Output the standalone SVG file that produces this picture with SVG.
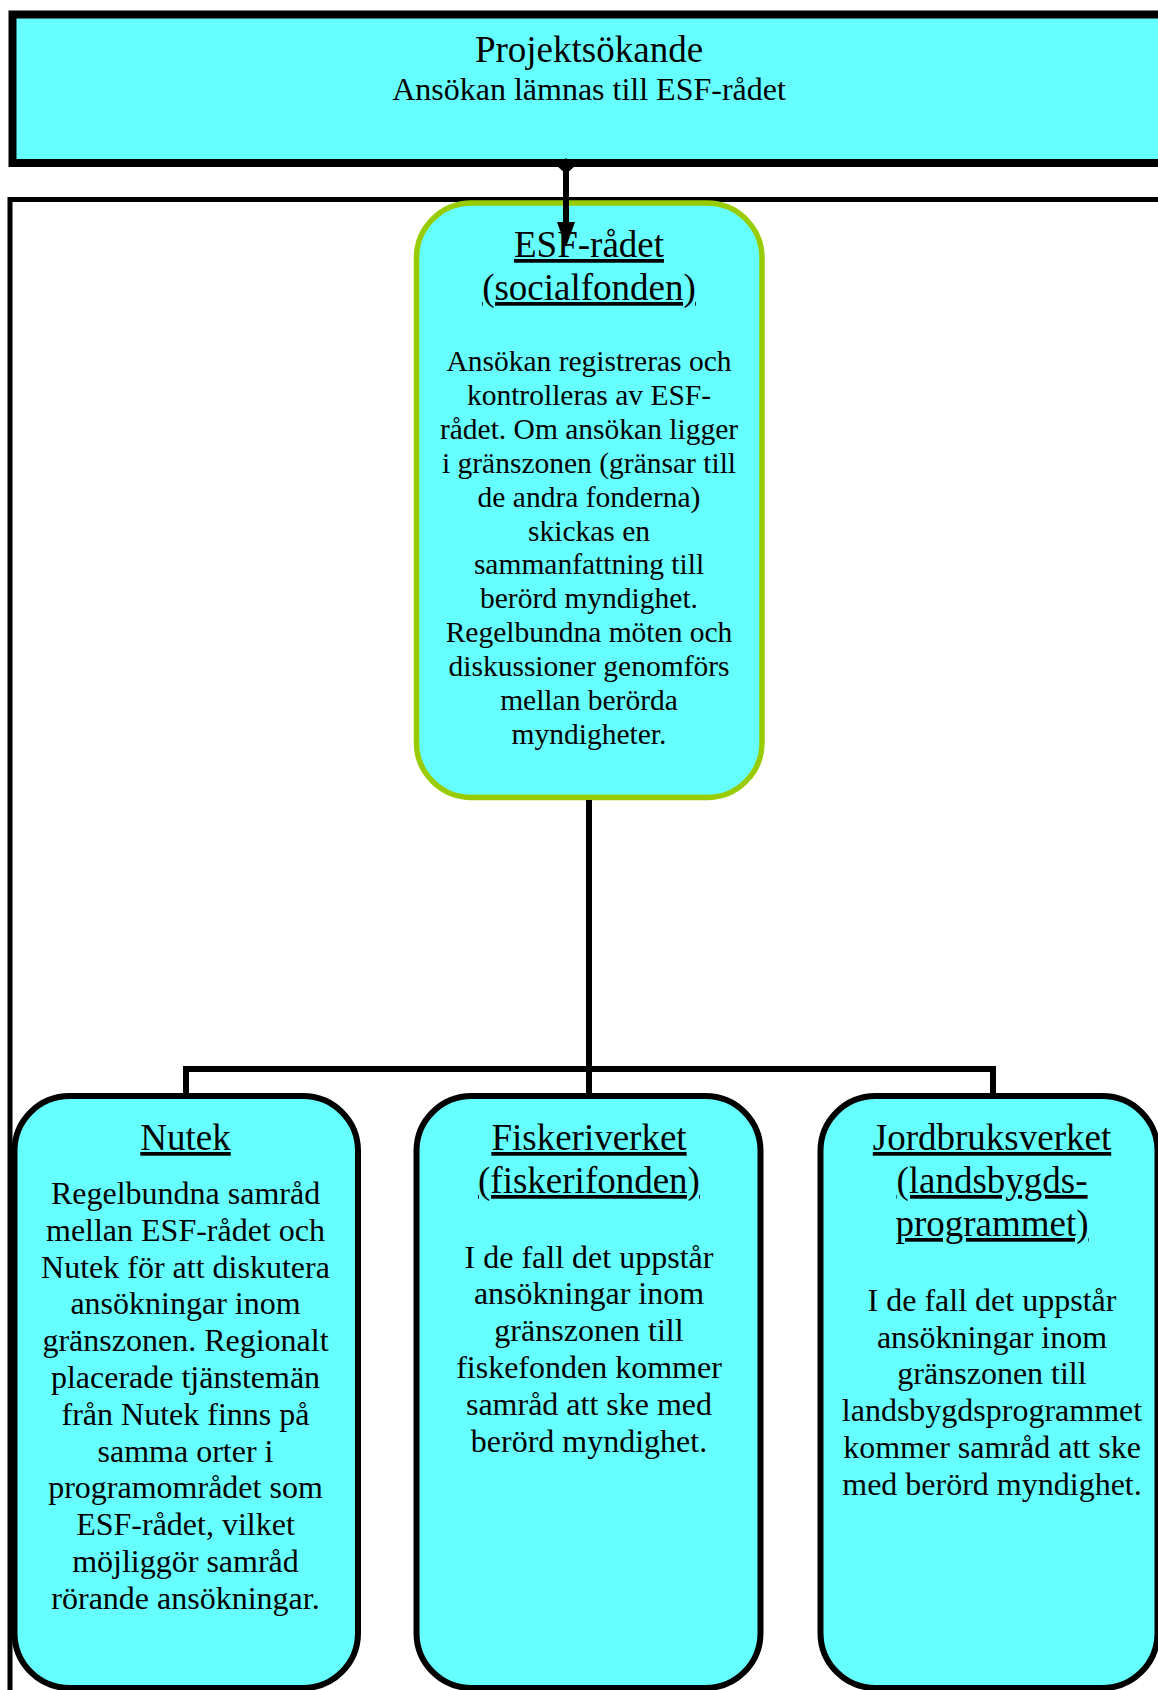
<svg xmlns="http://www.w3.org/2000/svg" width="1158" height="1690" viewBox="0 0 1158 1690">
<style>
text{font-family:"Liberation Serif","Times New Roman",serif;fill:#000;text-anchor:middle}
.t{font-size:37px}
.s{font-size:32px}
.h{font-size:37px;text-decoration:underline}
.b{font-size:32px}
.e{font-size:29.5px}
.box{fill:#66FFFF;stroke:#000;stroke-width:6}
.conn{fill:none;stroke:#000;stroke-width:6}
</style>
<defs>
<marker id="dia" markerUnits="userSpaceOnUse" markerWidth="20" markerHeight="16" refX="10" refY="8" viewBox="0 0 20 16">
<path d="M10,0 L19,8 L10,16 L1,8 Z" fill="#000"/>
</marker>
</defs>
<rect width="1158" height="1690" fill="#fff"/>
<g id="projektsokande">
<rect x="12.5" y="14.5" width="1200" height="148.5" fill="#66FFFF" stroke="#000" stroke-width="8"/>
<text class="t" x="589" y="62">Projektsökande</text>
<text class="s" x="589" y="100">Ansökan lämnas till ESF-rådet</text>
</g>
<g id="container">
<rect x="10" y="199.5" width="1250" height="1600" fill="none" stroke="#000" stroke-width="5"/>
</g>
<g id="esf">
<rect x="416.5" y="203" width="345.5" height="594.5" rx="55" ry="55" fill="#66FFFF" stroke="#99CC00" stroke-width="5.5"/>
<text class="h" x="589" y="257">ESF-rådet</text>
<text class="h" x="589" y="300">(socialfonden)</text>
<text class="e" x="589" y="371"><tspan x="589" dy="0">Ansökan registreras och</tspan><tspan x="589" dy="33.9">kontrolleras av ESF-</tspan><tspan x="589" dy="33.9">rådet. Om ansökan ligger</tspan><tspan x="589" dy="33.9">i gränszonen (gränsar till</tspan><tspan x="589" dy="33.9">de andra fonderna)</tspan><tspan x="589" dy="33.9">skickas en</tspan><tspan x="589" dy="33.9">sammanfattning till</tspan><tspan x="589" dy="33.9">berörd myndighet.</tspan><tspan x="589" dy="33.9">Regelbundna möten och</tspan><tspan x="589" dy="33.9">diskussioner genomförs</tspan><tspan x="589" dy="33.9">mellan berörda</tspan><tspan x="589" dy="33.9">myndigheter.</tspan></text>
</g>
<g id="nutek">
<rect class="box" x="14.5" y="1096" width="343.5" height="592" rx="55" ry="55"/>
<text class="h" x="185.5" y="1150">Nutek</text>
<text class="b" x="185.5" y="1204"><tspan x="185.5" dy="0">Regelbundna samråd</tspan><tspan x="185.5" dy="36.8">mellan ESF-rådet och</tspan><tspan x="185.5" dy="36.8">Nutek för att diskutera</tspan><tspan x="185.5" dy="36.8">ansökningar inom</tspan><tspan x="185.5" dy="36.8">gränszonen. Regionalt</tspan><tspan x="185.5" dy="36.8">placerade tjänstemän</tspan><tspan x="185.5" dy="36.8">från Nutek finns på</tspan><tspan x="185.5" dy="36.8">samma orter i</tspan><tspan x="185.5" dy="36.8">programområdet som</tspan><tspan x="185.5" dy="36.8">ESF-rådet, vilket</tspan><tspan x="185.5" dy="36.8">möjliggör samråd</tspan><tspan x="185.5" dy="36.8">rörande ansökningar.</tspan></text>
</g>
<g id="fiskeriverket">
<rect class="box" x="416.5" y="1096" width="344" height="592" rx="55" ry="55"/>
<text class="h" x="589" y="1150">Fiskeriverket</text>
<text class="h" x="589" y="1193">(fiskerifonden)</text>
<text class="b" x="589" y="1267.6"><tspan x="589" dy="0">I de fall det uppstår</tspan><tspan x="589" dy="36.8">ansökningar inom</tspan><tspan x="589" dy="36.8">gränszonen till</tspan><tspan x="589" dy="36.8">fiskefonden kommer</tspan><tspan x="589" dy="36.8">samråd att ske med</tspan><tspan x="589" dy="36.8">berörd myndighet.</tspan></text>
</g>
<g id="jordbruksverket">
<rect class="box" x="820.5" y="1096" width="337" height="592" rx="55" ry="55"/>
<text class="h" x="992" y="1150">Jordbruksverket</text>
<text class="h" x="992" y="1193">(landsbygds-</text>
<text class="h" x="992" y="1236">programmet)</text>
<text class="b" x="992" y="1310.7"><tspan x="992" dy="0">I de fall det uppstår</tspan><tspan x="992" dy="36.8">ansökningar inom</tspan><tspan x="992" dy="36.8">gränszonen till</tspan><tspan x="992" dy="36.8">landsbygdsprogrammet</tspan><tspan x="992" dy="36.8">kommer samråd att ske</tspan><tspan x="992" dy="36.8">med berörd myndighet.</tspan></text>
</g>
<g id="connectors">
<path class="conn" d="M566,166 L566,222" marker-start="url(#dia)"/>
<path d="M557,222 L575,222 L566,247 Z" fill="#000"/>
<path class="conn" d="M589,800 L589,1093"/>
<path class="conn" d="M186,1093 L186,1069 L993,1069 L993,1093"/>
</g>
</svg>
